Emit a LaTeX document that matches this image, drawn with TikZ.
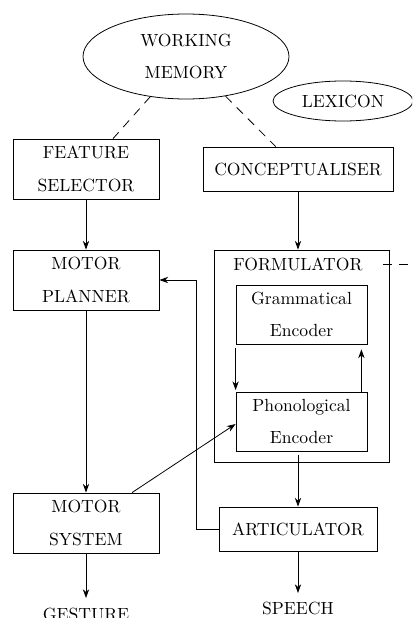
\documentclass[tikz,border=0pt]{standalone}
\usetikzlibrary{shapes.geometric,arrows.meta,calc}
\begin{document}
\begin{tikzpicture}[x=0.5682pt,y=-0.5682pt,
  box/.style={draw,line width=0.45pt,rectangle,align=center,inner sep=0pt},
  ell/.style={draw,line width=0.45pt,ellipse,align=center,inner sep=0pt},
  arr/.style={-{Stealth[length=5pt,width=3.6pt]},line width=0.45pt},
  dsh/.style={dash pattern=on 5pt off 4pt,line width=0.45pt},
  lbl/.style={inner sep=2pt,align=center}]
\clip (0,0) rectangle (412,618);
\useasboundingbox (0,0) rectangle (412,618);
% ellipses
\node[ell,minimum width=206*0.5682pt,minimum height=85*0.5682pt] (wm) at (186,56.5) {WORKING\\[6.5pt]MEMORY};
\node[ell,minimum width=140*0.5682pt,minimum height=40*0.5682pt] (lex) at (343,101) {LEXICON};
% boxes
\node[box,minimum width=146*0.5682pt,minimum height=60*0.5682pt] (fs) at (86,169) {FEATURE\\[6.5pt]SELECTOR};
\node[box,minimum width=190*0.5682pt,minimum height=44*0.5682pt] (conc) at (298,169) {CONCEPTUALISER};
\node[box,minimum width=146*0.5682pt,minimum height=60*0.5682pt] (mp) at (86,280) {MOTOR\\[6.5pt]PLANNER};
\node[box,minimum width=175*0.5682pt,minimum height=212*0.5682pt] (form) at (301.5,356) {};
\node[lbl] (flab) at (298,264) {FORMULATOR};
\node[box,minimum width=131*0.5682pt,minimum height=59*0.5682pt] (ge) at (301.5,314.5) {Grammatical\\[6.5pt]Encoder};
\node[box,minimum width=131*0.5682pt,minimum height=59*0.5682pt] (pe) at (301.5,421.5) {Phonological\\[6.5pt]Encoder};
\node[box,minimum width=146*0.5682pt,minimum height=60*0.5682pt] (ms) at (86,523) {MOTOR\\[6.5pt]SYSTEM};
\node[box,minimum width=158*0.5682pt,minimum height=44*0.5682pt] (art) at (298,529) {ARTICULATOR};
\node[lbl] (speech) at (298,608.5) {SPEECH};
\node[lbl] (gesture) at (86,614) {GESTURE};
% dashed links
\draw[dsh] (wm) -- (fs);
\draw[dsh] (wm) -- (conc);
\coordinate (fd) at (383,264);
\coordinate (fe) at (420,264);
\draw[dsh] (fd) -- (fe);
% arrows
\draw[arr] (fs.south) -- (mp.north);
\draw[arr] (conc.south) -- (conc.south |- form.north);
\draw[arr] (mp.south) -- (ms.north);
\draw[arr] (ms.south) -- (ms.south |- 0,598);
\draw[arr] (art.south) -- (art.south |- 0,593);
\draw[arr,shorten <=4*0.5682pt] (art.north |- pe.south) -- (art.north);
\draw[arr,shorten <=4*0.5682pt,shorten >=1.5*0.5682pt] (ge.south west) -- (pe.north west);
\draw[arr,shorten >=5*0.5682pt] ($(pe.north east)+(-6,0)$) -- ($(ge.south east)+(-6,0)$);
\draw[arr] ($(ms.north)+(46,0)$) -- ($(pe.west)+(0,2.5)$);
\draw[arr] (art.west) -- ++(-22,0) |- (mp.east);
\end{tikzpicture}
\end{document}
